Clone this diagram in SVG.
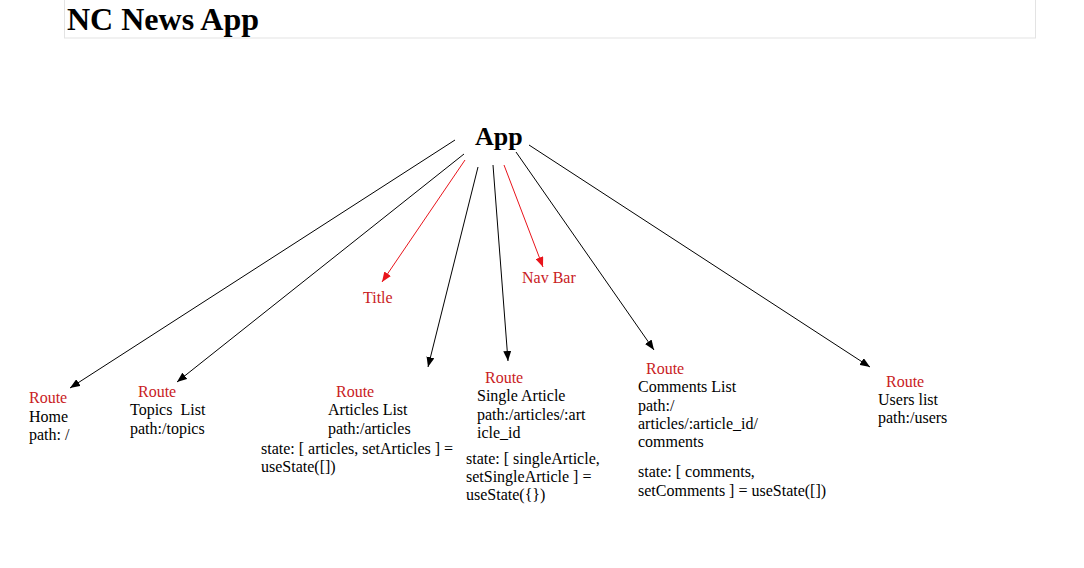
<svg xmlns="http://www.w3.org/2000/svg" width="1084" height="568" viewBox="0 0 1084 568">
<defs>
<style>
.t{font-family:"Liberation Serif","Times New Roman",serif;font-size:16px;fill:#000}
.r{font-family:"Liberation Serif","Times New Roman",serif;font-size:16px;fill:#c9211e}
.c{stroke:#000;stroke-width:1;fill:none}
.cr{stroke:#e8141b;stroke-width:1;fill:none}
</style>
<marker id="ab" viewBox="0 0 10 8" refX="10" refY="4" markerWidth="10" markerHeight="8" markerUnits="userSpaceOnUse" orient="auto"><path d="M0,0 L10,4 L0,8 Z" fill="#000"/></marker>
<marker id="ar" viewBox="0 0 10 8" refX="10" refY="4" markerWidth="10" markerHeight="8" markerUnits="userSpaceOnUse" orient="auto"><path d="M0,0 L10,4 L0,8 Z" fill="#e8141b"/></marker>
</defs>
<rect width="1084" height="568" fill="#fff"/>
<g id="header">
<rect x="64.5" y="-1" width="971" height="39" fill="none" stroke="#e3e3e3"/>
<text x="67" y="30" style="font-family:'Liberation Serif','Times New Roman',serif;font-size:32px;font-weight:bold" fill="#000">NC News App</text>
</g>
<g id="connectors">
<line class="c" x1="455" y1="140" x2="70" y2="388" marker-end="url(#ab)"/>
<line class="c" x1="464" y1="154" x2="177" y2="382" marker-end="url(#ab)"/>
<line class="cr" x1="465" y1="160" x2="382" y2="282" marker-end="url(#ar)"/>
<line class="c" x1="478" y1="167" x2="428" y2="367" marker-end="url(#ab)"/>
<line class="c" x1="493" y1="165" x2="508" y2="361" marker-end="url(#ab)"/>
<line class="cr" x1="504" y1="165" x2="543" y2="267" marker-end="url(#ar)"/>
<line class="c" x1="516" y1="152" x2="654" y2="350" marker-end="url(#ab)"/>
<line class="c" x1="529" y1="145" x2="870" y2="367" marker-end="url(#ab)"/>
</g>
<g id="app">
<text x="475" y="145" style="font-family:'Liberation Serif','Times New Roman',serif;font-size:26px;font-weight:bold" fill="#000">App</text>
</g>
<g id="title">
<text class="r" x="363" y="303">Title</text>
</g>
<g id="navbar">
<text class="r" x="522" y="283">Nav Bar</text>
</g>
<g id="home">
<text class="r" x="29" y="403">Route</text>
<text class="t" x="29" y="422">Home</text>
<text class="t" x="29" y="440">path: /</text>
</g>
<g id="topics">
<text class="r" x="138" y="397">Route</text>
<text class="t" x="130" y="415" xml:space="preserve">Topics  List</text>
<text class="t" x="130" y="434">path:/topics</text>
</g>
<g id="articles">
<text class="r" x="336" y="397">Route</text>
<text class="t" x="328" y="415">Articles List</text>
<text class="t" x="328" y="434">path:/articles</text>
<text class="t" x="261" y="454">state: [ articles, setArticles ] =</text>
<text class="t" x="261" y="472">useState([])</text>
</g>
<g id="single-article">
<text class="r" x="485" y="383">Route</text>
<text class="t" x="477" y="401">Single Article</text>
<text class="t" x="477" y="420">path:/articles/:art</text>
<text class="t" x="477" y="438">icle_id</text>
<text class="t" x="466" y="464">state: [ singleArticle,</text>
<text class="t" x="466" y="482">setSingleArticle ] =</text>
<text class="t" x="466" y="500">useState({})</text>
</g>
<g id="comments">
<text class="r" x="646" y="374">Route</text>
<text class="t" x="638" y="392">Comments List</text>
<text class="t" x="638" y="411">path:/</text>
<text class="t" x="638" y="429">articles/:article_id/</text>
<text class="t" x="638" y="447">comments</text>
<text class="t" x="638" y="477">state: [ comments,</text>
<text class="t" x="638" y="496">setComments ] = useState([])</text>
</g>
<g id="users">
<text class="r" x="886" y="387">Route</text>
<text class="t" x="878" y="405">Users list</text>
<text class="t" x="878" y="423">path:/users</text>
</g>
</svg>
